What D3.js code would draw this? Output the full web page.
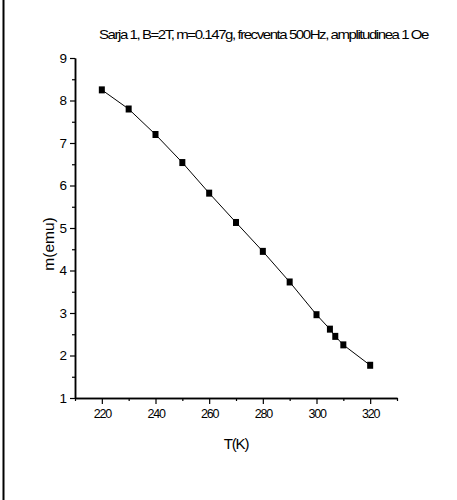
<!DOCTYPE html>
<html>
<head>
<meta charset="utf-8">
<script src="https://cdn.jsdelivr.net/npm/d3@7"></script>
<style>
  html, body { margin: 0; padding: 0; background: #fff; }
  svg { display: block; }
  text { font-family: "Liberation Sans", Arial, sans-serif; fill: #000; }
</style>
</head>
<body>
<svg id="chart" width="457" height="500"></svg>
<script>
// Magnetic moment versus temperature
const temperature = [220, 230, 240, 250, 260, 270, 280, 290, 300, 305, 307, 310, 320];
const moment = [8.25, 7.80, 7.20, 6.54, 5.82, 5.13, 4.45, 3.73, 2.96, 2.62, 2.45, 2.25, 1.77];

const xMajorTicks = [220, 240, 260, 280, 300, 320];
const xMinorTicks = [210, 230, 250, 270, 290, 310, 330];
const yMajorTicks = [1, 2, 3, 4, 5, 6, 7, 8, 9];
const yMinorTicks = [1.5, 2.5, 3.5, 4.5, 5.5, 6.5, 7.5, 8.5];

const titleText = "Sarja 1, B=2T, m=0.147g, frecventa 500Hz, amplitudinea 1 Oe";
const xTitle = "T(K)";
const yTitle = "m(emu)";

const svg = d3.select("#chart");

// frame line on the left edge
svg.append("line")
  .attr("x1", 3.5).attr("x2", 3.5)
  .attr("y1", 0).attr("y2", 500)
  .attr("stroke", "#000").attr("stroke-width", 2);

const x = d3.scaleLinear().domain([210, 330]).range([75, 397]);
const y = d3.scaleLinear().domain([1, 9]).range([398, 58]);

const axisColor = "#000";

// x axis: major ticks with labels, minor ticks without
const gx = svg.append("g").attr("transform", `translate(0,${y(1)})`);
gx.call(d3.axisBottom(x).tickValues(xMajorTicks).tickSize(6).tickSizeOuter(0).tickPadding(5).tickFormat(d3.format("d")));
gx.append("g").call(d3.axisBottom(x).tickValues(xMinorTicks).tickSize(3).tickSizeOuter(0).tickFormat(""));
gx.selectAll(".domain").attr("stroke", axisColor).attr("stroke-width", 1.5);
gx.selectAll(".tick line").attr("stroke", axisColor).attr("stroke-width", 1.2);
gx.selectAll(".tick text")
  .style("font-size", "12.5px")
  .style("letter-spacing", "-1.2px")
  .style("font-family", "'Liberation Sans', Arial, sans-serif")
  .attr("fill", "#000");

// y axis
const gy = svg.append("g").attr("transform", `translate(${x(210)},0)`);
gy.call(d3.axisLeft(y).tickValues(yMajorTicks).tickSize(5).tickSizeOuter(0).tickPadding(3).tickFormat(d3.format("d")));
gy.append("g").call(d3.axisLeft(y).tickValues(yMinorTicks).tickSize(3).tickSizeOuter(0).tickFormat(""));
gy.selectAll(".domain").attr("stroke", axisColor).attr("stroke-width", 1.5);
gy.selectAll(".tick line").attr("stroke", axisColor).attr("stroke-width", 1.2);
gy.selectAll(".tick text")
  .style("font-size", "13.5px")
  .style("font-family", "'Liberation Sans', Arial, sans-serif")
  .attr("fill", "#000");

// connecting line
const pts = temperature.map((t, i) => [t, moment[i]]);
svg.append("path")
  .datum(pts)
  .attr("fill", "none")
  .attr("stroke", "#000")
  .attr("stroke-width", 1)
  .attr("d", d3.line().x(d => x(d[0])).y(d => y(d[1])));

// square markers
svg.append("g").selectAll("rect")
  .data(pts)
  .join("rect")
  .attr("x", d => x(d[0]) - 3)
  .attr("y", d => y(d[1]) - 3.5)
  .attr("width", 6)
  .attr("height", 7)
  .attr("fill", "#000");

// title, set tight like the plotting package's condensed output
svg.append("text")
  .attr("x", 99).attr("y", 39)
  .attr("textLength", 329)
  .attr("lengthAdjust", "spacingAndGlyphs")
  .style("font-size", "13.5px")
  .style("letter-spacing", "-1.3px")
  .text(titleText);

// axis titles
svg.append("text")
  .attr("x", 236).attr("y", 449)
  .attr("text-anchor", "middle")
  .style("font-size", "15px")
  .style("letter-spacing", "-1.2px")
  .text(xTitle);

svg.append("text")
  .attr("transform", `translate(54,244) rotate(-90)`)
  .attr("text-anchor", "middle")
  .style("font-size", "15.5px")
  .text(yTitle);
</script>
</body>
</html>
